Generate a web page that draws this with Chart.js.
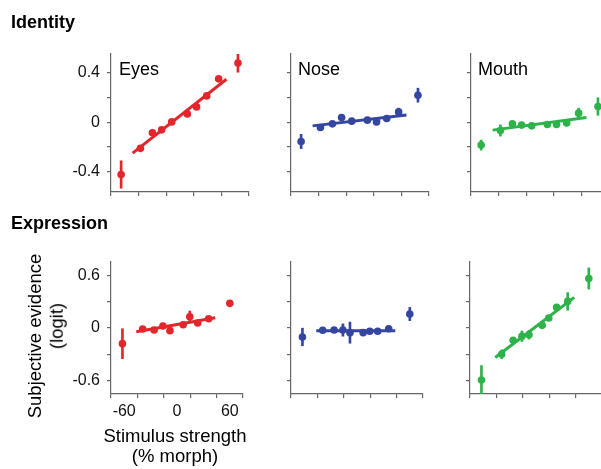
<!DOCTYPE html>
<html>
<head>
<meta charset="utf-8">
<script src="https://cdn.jsdelivr.net/npm/chart.js@4.4.1/dist/chart.umd.min.js"></script>
<style>
    body {
        margin: 0;
        width: 601px;
        height: 469px;
        overflow: hidden;
        background: #fff;
        position: relative;
        font-family: "Liberation Sans", Arial, Helvetica, sans-serif;
    }
    canvas { position: absolute; }
    .txt {
        position: absolute;
        line-height: 1;
        white-space: nowrap;
        color: #000;
    }
    .row-title { font-size: 18px; font-weight: bold; }
    .panel-title { font-size: 18px; }
    .axis-title { font-size: 18.5px; }
    .rot { transform: translate(-50%, -50%) rotate(-90deg); }
    .center { transform: translateX(-50%); }
</style>
</head>
<body>

<div class="txt row-title" style="left:11px; top:13px;">Identity</div>
<div class="txt row-title" style="left:11px; top:214px;">Expression</div>

<div class="txt panel-title" style="left:119px; top:60px;">Eyes</div>
<div class="txt panel-title" style="left:298px; top:60px;">Nose</div>
<div class="txt panel-title" style="left:478px; top:60px;">Mouth</div>

<div class="txt axis-title rot" style="left:35px; top:336px;">Subjective evidence</div>
<div class="txt axis-title rot" style="left:57px; top:326px;">(logit)</div>

<div class="txt axis-title center" style="left:175px; top:427px;">Stimulus strength</div>
<div class="txt axis-title center" style="left:175px; top:447px;">(% morph)</div>

<script>
// ============================
// DATOS
// ============================

// niveles de morph (eje x)
const identityX   = [-64, -43, -30, -20, -9, 8, 18, 29, 42, 63];
const expressionX = [-62, -39, -26, -16, -8, 7, 14.5, 23.5, 36, 60];

// extremos de las rectas de ajuste
const identityFitX   = [-51.5, 50.5];
const expressionFitX = [-46.3, 43.5];

// Identity
const idEyesY   = [-0.42, -0.21, -0.085, -0.062, 0.002, 0.066, 0.122, 0.21, 0.347, 0.473];
const idEyesErr = [0.11, 0.02, 0.02, 0.02, 0.02, 0.02, 0.02, 0.02, 0.02, 0.073];
const idEyesFit = [-0.248, 0.344];

const idNoseY   = [-0.155, -0.043, -0.014, 0.037, 0.008, 0.016, 0.002, 0.029, 0.082, 0.216];
const idNoseErr = [0.057, 0.02, 0.02, 0.02, 0.02, 0.02, 0.02, 0.02, 0.03, 0.056];
const idNoseFit = [-0.03, 0.058];

const idMouthY   = [-0.184, -0.067, -0.014, -0.024, -0.03, -0.019, -0.019, -0.006, 0.072, 0.125];
const idMouthErr = [0.04, 0.045, 0.02, 0.02, 0.02, 0.02, 0.02, 0.02, 0.04, 0.07];
const idMouthFit = [-0.064, 0.037];

// Expression
const exEyesY   = [-0.178, -0.011, -0.023, 0.023, -0.03, 0.037, 0.128, 0.057, 0.105, 0.28];
const exEyesErr = [0.17, 0.02, 0.02, 0.02, 0.03, 0.02, 0.065, 0.02, 0.02, 0.02];
const exEyesFit = [-0.042, 0.117];

const exNoseY   = [-0.102, -0.026, -0.023, -0.023, -0.053, -0.053, -0.037, -0.037, -0.008, 0.159];
const exNoseErr = [0.1, 0.02, 0.02, 0.07, 0.12, 0.02, 0.02, 0.02, 0.03, 0.075];
const exNoseFit = [-0.03, -0.03];

const exMouthY   = [-0.592, -0.298, -0.139, -0.094, -0.076, 0.03, 0.113, 0.234, 0.302, 0.563];
const exMouthErr = [0.165, 0.05, 0.03, 0.06, 0.05, 0.02, 0.02, 0.03, 0.1, 0.12];
const exMouthFit = [-0.336, 0.348];

// ticks
const xTicks      = [-60, -30, 0, 30, 60];
const xTickLabels = ['-60', '', '0', '', '60'];

const yTicksIdentity    = [-0.4, -0.2, 0, 0.2, 0.4];
const yLabelsIdentity   = ['-0.4', '', '0', '', '0.4'];
const yTicksExpression  = [-0.6, -0.3, 0, 0.3, 0.6];
const yLabelsExpression = ['-0.6', '', '0', '', '0.6'];

// ============================
// ESTILO / LAYOUT
// ============================

const RED   = '#e3262b';
const BLUE  = '#3546a0';
const GREEN = '#2db34a';
const AXIS  = '#666';

// margenes del canvas alrededor del area de dibujo
// (grandes para que chart.js no agregue padding propio)
const PAD_L = 56, PAD_T = 30, PAD_R = 24, PAD_B = 34;

const panels = [
    { left: 111, top: 54, w: 138, h: 138, x: identityX, y: idEyesY, err: idEyesErr, fitX: identityFitX, fitY: idEyesFit, color: RED, yr: [-0.56, 0.546], yt: yTicksIdentity, yl: yLabelsIdentity, showY: true, showX: false },
    { left: 291, top: 54, w: 138, h: 138, x: identityX, y: idNoseY, err: idNoseErr, fitX: identityFitX, fitY: idNoseFit, color: BLUE, yr: [-0.56, 0.546], yt: yTicksIdentity, yl: yLabelsIdentity, showY: false, showX: false },
    { left: 471, top: 54, w: 138, h: 138, x: identityX, y: idMouthY, err: idMouthErr, fitX: identityFitX, fitY: idMouthFit, color: GREEN, yr: [-0.56, 0.546], yt: yTicksIdentity, yl: yLabelsIdentity, showY: false, showX: false },
    { left: 111, top: 262, w: 132, h: 132, x: expressionX, y: exEyesY, err: exEyesErr, fitX: expressionFitX, fitY: exEyesFit, color: RED, yr: [-0.75, 0.75], yt: yTicksExpression, yl: yLabelsExpression, showY: true, showX: true },
    { left: 291, top: 262, w: 132, h: 132, x: expressionX, y: exNoseY, err: exNoseErr, fitX: expressionFitX, fitY: exNoseFit, color: BLUE, yr: [-0.75, 0.75], yt: yTicksExpression, yl: yLabelsExpression, showY: false, showX: false },
    { left: 470, top: 262, w: 132, h: 132, x: expressionX, y: exMouthY, err: exMouthErr, fitX: expressionFitX, fitY: exMouthFit, color: GREEN, yr: [-0.75, 0.75], yt: yTicksExpression, yl: yLabelsExpression, showY: false, showX: false }
];

const tickFont = { family: '"Liberation Sans", Arial, sans-serif', size: 16 };

// ============================
// PANELES
// ============================

function makePanel(p) {
    const canvas = document.createElement('canvas');
    canvas.width = p.w + PAD_L + PAD_R;
    canvas.height = p.h + PAD_T + PAD_B;
    canvas.style.left = (p.left - PAD_L) + 'px';
    canvas.style.top = (p.top - PAD_T) + 'px';
    document.body.insertBefore(canvas, document.body.firstChild);

    new Chart(canvas, {
        type: 'scatter',
        data: {
            datasets: [
                {
                    type: 'line',
                    data: p.fitX.map((x, i) => ({ x, y: p.fitY[i] })),
                    borderColor: p.color,
                    borderWidth: 3,
                    pointRadius: 0,
                    order: 3
                },
                {
                    type: 'bar',
                    data: p.x.map((x, i) => ({ x, y: [p.y[i] - p.err[i], p.y[i] + p.err[i]] })),
                    backgroundColor: p.color,
                    barThickness: 2,
                    order: 2
                },
                {
                    data: p.x.map((x, i) => ({ x, y: p.y[i] })),
                    backgroundColor: p.color,
                    borderWidth: 0,
                    pointRadius: 3.8,
                    order: 1
                }
            ]
        },
        options: {
            responsive: false,
            animation: false,
            events: [],
            layout: { padding: { top: PAD_T, right: PAD_R, left: 0, bottom: 0 } },
            plugins: { legend: { display: false }, tooltip: { enabled: false } },
            scales: {
                x: {
                    type: 'linear',
                    min: -75,
                    max: 75,
                    offset: false,
                    grid: { drawOnChartArea: false, tickLength: 4, color: AXIS, lineWidth: 1.2 },
                    border: { color: AXIS, width: 1.2 },
                    ticks: {
                        autoSkip: false,
                        maxRotation: 0,
                        padding: 4,
                        color: '#111',
                        font: tickFont,
                        callback: (v, i) => p.showX ? xTickLabels[i] : ''
                    },
                    afterBuildTicks: s => { s.ticks = xTicks.map(v => ({ value: v })); },
                    afterFit: s => { s.height = PAD_B; }
                },
                y: {
                    min: p.yr[0],
                    max: p.yr[1],
                    grid: { drawOnChartArea: false, tickLength: 4, color: AXIS, lineWidth: 1.2 },
                    border: { color: AXIS, width: 1.2 },
                    ticks: {
                        autoSkip: false,
                        padding: 7,
                        color: '#111',
                        font: tickFont,
                        callback: (v, i) => p.showY ? p.yl[i] : ''
                    },
                    afterBuildTicks: s => { s.ticks = p.yt.map(v => ({ value: v })); },
                    afterFit: s => { s.width = PAD_L; }
                }
            }
        }
    });
}

panels.forEach(makePanel);
</script>
</body>
</html>
